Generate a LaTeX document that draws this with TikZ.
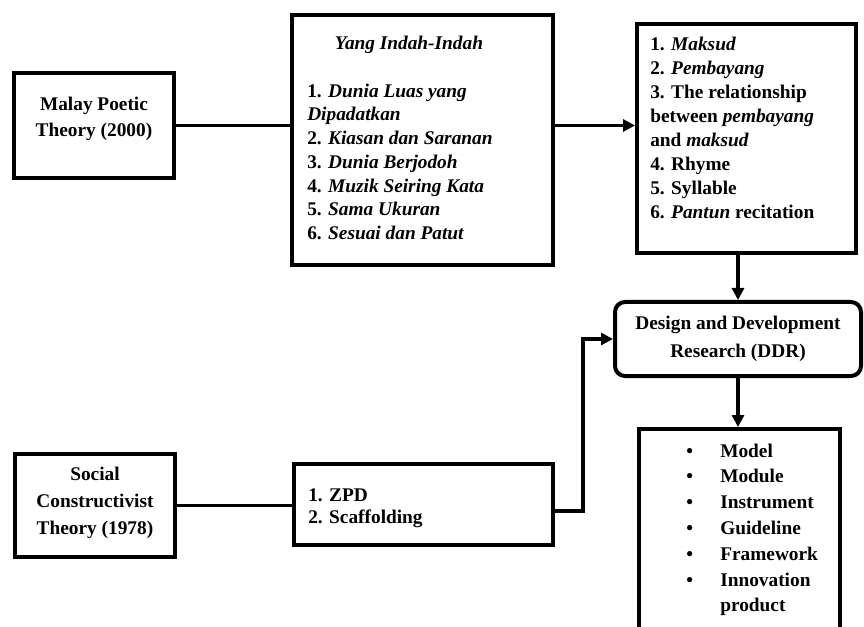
\documentclass[tikz,border=0pt]{standalone}
\usepackage{fontspec}
\setmainfont{Liberation Serif}
\usetikzlibrary{arrows.meta}
\begin{document}
\begin{tikzpicture}[x=0.75pt,y=-0.75pt,
  box/.style={draw,line width=3pt,inner sep=0pt},
  txt/.style={inner sep=0pt},
  conn/.style={line width=2.8pt},
  arr/.style={line width=2.8pt,-{Triangle[length=9pt,width=9pt]}}]
\useasboundingbox (0,0) rectangle (864,627);
% boxes
\node[box,minimum width=120pt,minimum height=78.75pt] (Malay) at (94,125.5) {};
\node[box,minimum width=195.75pt,minimum height=187.5pt] (Yang) at (422.5,140) {};
\node[box,minimum width=164.25pt,minimum height=171.75pt] (Maksud) at (746.5,138.5) {};
\node[box,rounded corners=7.5pt,minimum width=184.5pt,minimum height=55.5pt] (DDR) at (738,339) {};
\node[box,minimum width=150.75pt,minimum height=158.25pt] (Output) at (739.5,534.5) {};
\node[box,minimum width=120pt,minimum height=77.25pt] (Social) at (95,505.5) {};
\node[box,minimum width=194.25pt,minimum height=60.75pt] (ZPD) at (423.5,504.5) {};
% texts
\node[txt,anchor=north,align=center,font=\bfseries\fontsize{14.5}{19.5}\selectfont] (tMalay) at (94,96.5) {Malay Poetic\\Theory (2000)};
\node[txt,anchor=north,font=\bfseries\fontsize{14.5}{17.8}\selectfont] (tYangT) at (409,35.5) {\textit{Yang Indah-Indah}};
\node[txt,anchor=north west,align=left,font=\bfseries\fontsize{14.5}{17.8}\selectfont] (tYang) at (307,83.5) {1. \textit{Dunia Luas yang}\\\textit{Dipadatkan}\\2. \textit{Kiasan dan Saranan}\\3. \textit{Dunia Berjodoh}\\4. \textit{Muzik Seiring Kata}\\5. \textit{Sama Ukuran}\\6. \textit{Sesuai dan Patut}};
\node[txt,anchor=north west,align=left,font=\bfseries\fontsize{14.5}{18}\selectfont] (tMaksud) at (650,36.5) {1. \textit{Maksud}\\2. \textit{Pembayang}\\3. The relationship\\between \textit{pembayang}\\and \textit{maksud}\\4. Rhyme\\5. Syllable\\6. \textit{Pantun} recitation};
\node[txt,anchor=north,align=center,font=\bfseries\fontsize{14.5}{21}\selectfont] (tDDR) at (738,315.5) {Design and Development\\Research (DDR)};
\node[txt,anchor=north west,align=left,font=\bfseries\fontsize{14.5}{19.35}\selectfont] (tOut) at (686,443.5) {\makebox[25.5pt][l]{\textbullet}Model\\\makebox[25.5pt][l]{\textbullet}Module\\\makebox[25.5pt][l]{\textbullet}Instrument\\\makebox[25.5pt][l]{\textbullet}Guideline\\\makebox[25.5pt][l]{\textbullet}Framework\\\makebox[25.5pt][l]{\textbullet}Innovation\\\makebox[25.5pt][l]{}product};
\node[txt,anchor=north,align=center,font=\bfseries\fontsize{14.5}{20.25}\selectfont] (tSocial) at (95,466.5) {Social\\Constructivist\\Theory (1978)};
\node[txt,anchor=north west,align=left,font=\bfseries\fontsize{14.5}{16.5}\selectfont] (tZPD) at (308,488.5) {1. ZPD\\2. Scaffolding};
% connectors
\draw[conn] (Malay.east) -- (Malay.east -| Yang.west);
\draw[arr] (Malay.east -| Yang.east) -- (Malay.east -| Maksud.west);
\draw[arr] (Maksud.south -| DDR.north) -- (DDR.north);
\draw[arr] (DDR.south) -- (Output.north -| DDR.south);
\draw[conn] (Social.east) -- (Social.east -| ZPD.west);
\draw[arr] ([yshift=-4.9pt]ZPD.east) -- ++(28,0) |- (DDR.west);
\end{tikzpicture}
\end{document}
